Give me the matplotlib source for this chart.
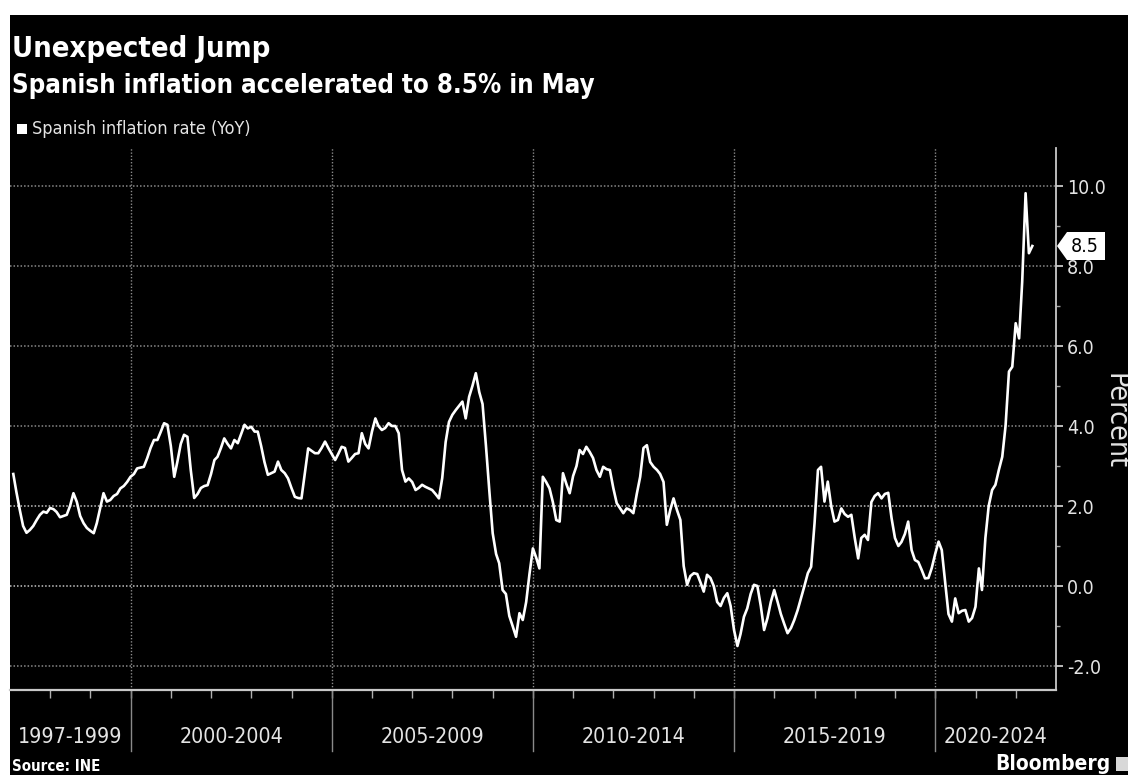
import numpy as np
import pandas as pd
import matplotlib
matplotlib.use("Agg")
import matplotlib.pyplot as plt
from matplotlib import font_manager
from matplotlib.patches import Rectangle, Polygon
from matplotlib.transforms import IdentityTransform
from matplotlib.ticker import MultipleLocator

# Spanish inflation rate, YoY %, monthly from Jan 1997 to May 2022
inflation = [
    2.8, 2.35, 1.9, 1.5, 1.33, 1.4, 1.5, 1.65, 1.78, 1.86, 1.83, 1.95,        # 1997
    1.92, 1.85, 1.72, 1.75, 1.78, 2.0, 2.32, 2.1, 1.75, 1.57, 1.45, 1.38,      # 1998
    1.32, 1.57, 1.95, 2.32, 2.11, 2.15, 2.25, 2.3, 2.44, 2.5, 2.6, 2.73,       # 1999
    2.8, 2.94, 2.96, 2.98, 3.2, 3.45, 3.65, 3.65, 3.85, 4.07, 4.03, 3.5,       # 2000
    2.73, 3.1, 3.55, 3.78, 3.73, 2.9, 2.2, 2.3, 2.45, 2.5, 2.52, 2.8,          # 2001
    3.15, 3.23, 3.45, 3.69, 3.55, 3.44, 3.65, 3.57, 3.8, 4.03, 3.94, 3.98,     # 2002
    3.86, 3.86, 3.5, 3.1, 2.78, 2.82, 2.86, 3.11, 2.9, 2.82, 2.69, 2.45,       # 2003
    2.23, 2.2, 2.19, 2.8, 3.44, 3.38, 3.32, 3.32, 3.45, 3.61, 3.45, 3.3,       # 2004
    3.15, 3.3, 3.48, 3.45, 3.11, 3.2, 3.3, 3.32, 3.82, 3.55, 3.44, 3.86,       # 2005
    4.19, 4.0, 3.9, 3.95, 4.07, 4.0, 4.0, 3.82, 2.9, 2.61, 2.69, 2.6,          # 2006
    2.4, 2.45, 2.53, 2.48, 2.44, 2.4, 2.3, 2.19, 2.7, 3.6, 4.1, 4.28,          # 2007
    4.4, 4.5, 4.61, 4.19, 4.73, 5.0, 5.32, 4.85, 4.55, 3.5, 2.4, 1.32,         # 2008
    0.8, 0.57, -0.1, -0.2, -0.75, -1.0, -1.27, -0.68, -0.85, -0.4, 0.3, 0.94,  # 2009
    0.7, 0.44, 2.73, 2.6, 2.44, 2.1, 1.65, 1.61, 2.82, 2.55, 2.32, 2.75,       # 2010
    3.0, 3.4, 3.3, 3.48, 3.35, 3.2, 2.9, 2.73, 2.98, 2.92, 2.9, 2.45,          # 2011
    2.07, 1.95, 1.82, 1.94, 1.9, 1.82, 2.3, 2.73, 3.45, 3.52, 3.1, 2.98,       # 2012
    2.9, 2.8, 2.6, 1.53, 1.9, 2.19, 1.9, 1.65, 0.5, 0.03, 0.25, 0.32,          # 2013
    0.3, 0.1, -0.14, 0.28, 0.2, 0.0, -0.4, -0.5, -0.3, -0.18, -0.5, -1.1,      # 2014
    -1.5, -1.2, -0.77, -0.56, -0.2, 0.03, 0.0, -0.5, -1.1, -0.8, -0.4, -0.1,   # 2015
    -0.4, -0.7, -0.95, -1.18, -1.05, -0.85, -0.6, -0.3, 0.0, 0.32, 0.48, 1.57, # 2016
    2.9, 2.98, 2.11, 2.61, 2.0, 1.61, 1.65, 1.94, 1.8, 1.73, 1.78, 1.2,        # 2017
    0.69, 1.2, 1.28, 1.15, 2.1, 2.25, 2.32, 2.19, 2.3, 2.33, 1.7, 1.2,         # 2018
    1.0, 1.1, 1.3, 1.61, 0.9, 0.65, 0.6, 0.4, 0.19, 0.2, 0.45, 0.8,            # 2019
    1.11, 0.9, 0.1, -0.7, -0.89, -0.31, -0.68, -0.62, -0.6, -0.89, -0.8, -0.52,  # 2020
    0.44, -0.1, 1.2, 2.0, 2.4, 2.53, 2.9, 3.23, 4.0, 5.36, 5.48, 6.57,         # 2021
    6.19, 7.6, 9.82, 8.32, 8.5,                                                # 2022
]
start_month = "1997-01-01"

period_labels = ["1997-1999", "2000-2004", "2005-2009", "2010-2014", "2015-2019", "2020-2024"]
period_starts = [1997, 2000, 2005, 2010, 2015, 2020]
period_ends = [2000, 2005, 2010, 2015, 2020, 2025]
y_ticks = [-2.0, 0.0, 2.0, 4.0, 6.0, 8.0, 10.0]

title = "Unexpected Jump"
subtitle = "Spanish inflation accelerated to 8.5% in May"
legend_label = "Spanish inflation rate (YoY)"

# pick a narrow sans if one is installed
entries = [(f.name, f.stretch) for f in font_manager.fontManager.ttflist]
font = dict(family="DejaVu Sans")
for name, stretch in [("Liberation Sans Narrow", None), ("DejaVu Sans", "condensed"),
                      ("Roboto Condensed", None)]:
    if any(n == name and (stretch is None or s == stretch) for n, s in entries):
        font = dict(family=name)
        if stretch:
            font["stretch"] = stretch
        break

W, H = 1128, 775
fig = plt.figure(figsize=(W / 100, H / 100), dpi=100, facecolor="white")
fig.add_artist(Rectangle((10 / W, 0), 1, 1 - 15 / H, transform=fig.transFigure,
                         facecolor="black", edgecolor="none", zorder=-10))
renderer = fig.canvas.get_renderer()


def px(x, y):
    return x / W, 1 - y / H


def size_for(text, width_px, **kw):
    t = fig.text(0, 0, text, fontsize=20, **font, **kw)
    w = t.get_window_extent(renderer=renderer).width
    t.remove()
    return 20 * width_px / w


ax = fig.add_axes([10 / W, 1 - 690 / H, (1056 - 10) / W, (690 - 148) / H])
ax.set_facecolor("black")

# monthly readings sit at the end of their month
dates = pd.date_range(start_month, periods=len(inflation), freq="MS") + pd.offsets.MonthEnd(1)
xmin, xmax = pd.Timestamp("1997-01-01"), pd.Timestamp("2023-01-01")
ax.plot(dates, inflation, color="white", lw=1.9, solid_joinstyle="round", zorder=3)
ax.set_xlim(xmin, xmax)
ax.set_ylim(-2.6, 10.95)

# dotted horizontal grid
for v in y_ticks:
    bright = v in (0.0, 2.0)
    ax.axhline(v, color="#c4c4c4" if bright else "#8a8a8a", lw=1.1,
               ls=(0, (1, 1.3)), zorder=1)

# period separators: dotted inside the plot, solid below the axis
xtr = ax.get_xaxis_transform()
for y0 in period_starts[1:]:
    d = pd.Timestamp(f"{y0}-01-01")
    ax.axvline(d, color="#8a8a8a", lw=1.0, ls=(0, (1, 1.3)), zorder=1)
    ax.plot([d, d], [0, -0.112], transform=xtr, clip_on=False, color="#8a8a8a", lw=1.0)

# period labels centred on the visible part of each span
xlab_size = size_for("1997-1999", 104)
for lbl, a, b in zip(period_labels, period_starts, period_ends):
    lo = max(pd.Timestamp(f"{a}-01-01"), xmin)
    hi = min(pd.Timestamp(f"{b}-01-01"), xmax)
    ax.text(lo + (hi - lo) / 2, -0.087, lbl, transform=xtr, ha="center", va="center",
            color="#e4e4e4", fontsize=xlab_size, **font)

for s in ["left", "top"]:
    ax.spines[s].set_visible(False)
ax.spines["bottom"].set_color("#c8c8c8")
ax.spines["bottom"].set_linewidth(1.6)
ax.spines["right"].set_color("#c8c8c8")
ax.spines["right"].set_linewidth(1.3)

ax.set_xticks([pd.Timestamp(f"{y}-01-01") for y in range(1998, 2023)])
ax.tick_params(axis="x", length=6, width=1.0, color="#b0b0b0", labelbottom=False)

ytick_size = size_for("10.0", 39)
ax.yaxis.tick_right()
ax.set_yticks(y_ticks)
ax.set_yticklabels([f"{v:.1f}" for v in y_ticks])
ax.yaxis.set_minor_locator(MultipleLocator(1.0))
ax.tick_params(axis="y", which="major", direction="out", length=5, width=1.3,
               color="#c8c8c8", labelcolor="#e4e4e4", labelsize=ytick_size, pad=3)
ax.tick_params(axis="y", which="minor", direction="out", length=3, width=1.0, color="#a0a0a0")
for lab in ax.get_yticklabels():
    lab.set(**font)

# axis title on the right edge
fig.text(*px(1116, 421), "Percent", rotation=270, ha="center", va="center",
         color="#e4e4e4", fontsize=size_for("Percent", 96), **font)

# titles
fig.text(*px(12, 57), title, color="white", fontweight="bold", va="baseline",
         fontsize=size_for(title, 258, fontweight="bold"), **font)
fig.text(*px(12, 93), subtitle, color="white", fontweight="bold", va="baseline",
         fontsize=size_for(subtitle, 585, fontweight="bold"), **font)

# legend
fig.add_artist(Rectangle(px(17, 134), 10 / W, 10 / H, transform=fig.transFigure,
                         facecolor="white", edgecolor="none"))
fig.text(*px(32, 134), legend_label, color="#e4e4e4", va="baseline",
         fontsize=size_for(legend_label, 218), **font)

# footer
fig.text(*px(12, 771), "Source: INE", color="white", fontweight="bold", va="baseline",
         fontsize=size_for("Source: INE", 88, fontweight="bold"), **font)
fig.text(*px(995, 770), "Bloomberg", color="white", fontweight="bold", va="baseline",
         fontsize=size_for("Bloomberg", 115, fontweight="bold"), **font)
fig.add_artist(Rectangle(px(1116, 771), 12 / W, 14 / H, transform=fig.transFigure,
                         facecolor="#d8d8d8", edgecolor="none"))

# last-value tag on the right axis
last = inflation[-1]
tip_x, tip_y = ax.transData.transform((matplotlib.dates.date2num(xmax), last))
tip_x += 1
verts = [(tip_x, tip_y), (tip_x + 10, tip_y + 14), (tip_x + 48, tip_y + 14),
         (tip_x + 48, tip_y - 14), (tip_x + 10, tip_y - 14)]
fig.add_artist(Polygon(verts, closed=True, transform=IdentityTransform(),
                       facecolor="white", edgecolor="none", zorder=5))
fig.text((tip_x + 28) / W, tip_y / H, f"{last:.1f}", ha="center", va="center",
         color="black", fontsize=ytick_size, zorder=6, **font)

fig.savefig("out.png", dpi=100, facecolor=fig.get_facecolor())
